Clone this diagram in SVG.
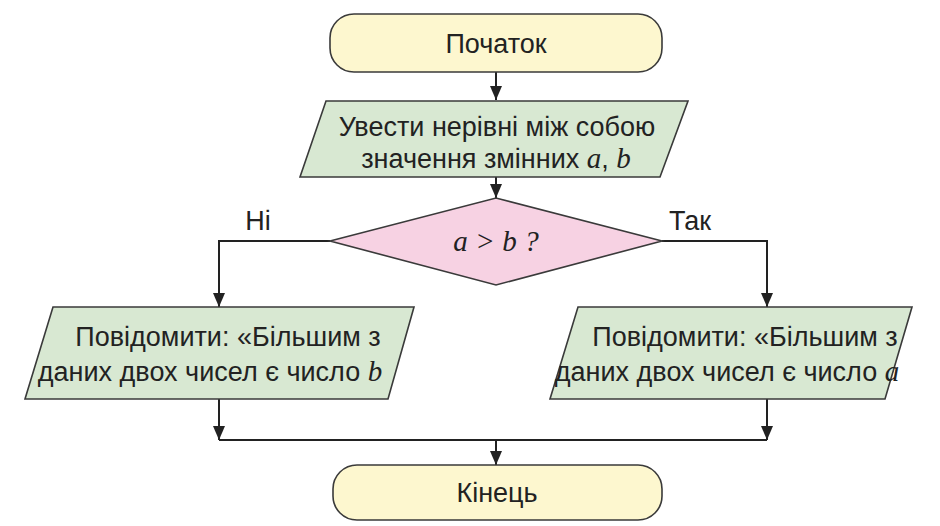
<svg xmlns="http://www.w3.org/2000/svg" width="940" height="526" viewBox="0 0 940 526">
<style>
.s{stroke:#3a3a3a;stroke-width:1.6}
.t{font-family:"Liberation Sans",Arial,sans-serif;font-size:27px;fill:#222;text-anchor:middle}
.m{font-family:"Liberation Serif","Times New Roman",serif;font-style:italic;font-size:29px}
.c{fill:none;stroke:#222;stroke-width:2}
</style>
<defs><marker id="d" markerWidth="12" markerHeight="14" refX="6" refY="14" markerUnits="userSpaceOnUse" viewBox="0 0 12 14"><path d="M0,0L12,0L6,14Z" fill="#222"/></marker></defs>
<rect width="940" height="526" fill="#fff"/>
<g id="connectors" class="c">
<path d="M496,72V100" marker-end="url(#d)"/>
<path d="M496,177V198" marker-end="url(#d)"/>
<path d="M330,241H219V307" marker-end="url(#d)"/>
<path d="M662,241H767V307" marker-end="url(#d)"/>
<path d="M219,399V440" marker-end="url(#d)"/>
<path d="M767,399V440" marker-end="url(#d)"/>
<path d="M219,440H767"/>
<path d="M496,440V465" marker-end="url(#d)"/>
</g>
<g id="start"><rect class="s" x="330" y="14" width="332" height="58" rx="24" fill="#fdf7cf"/><text class="t" x="496" y="53">Початок</text></g>
<g id="input"><polygon class="s" points="326,101 688,101 660,177 300,177" fill="#d8e8d2"/><text class="t" x="497" y="136">Увести нерівні між собою</text><text class="t" x="496" y="168">значення змінних <tspan class="m">a</tspan>, <tspan class="m">b</tspan></text></g>
<g id="cond"><polygon class="s" points="330,241 496,198 662,241 496,285" fill="#f7d2e3"/><text class="t" x="496" y="251"><tspan class="m">a</tspan> <tspan class="m">&gt;</tspan> <tspan class="m">b</tspan> <tspan class="m">?</tspan></text></g>
<g id="no"><polygon class="s" points="53,307 414,307 388,399 25,399" fill="#d8e8d2"/><text class="t" x="228" y="346">Повідомити: «Більшим з</text><text class="t" x="210" y="381">даних двох чисел є число <tspan class="m">b</tspan></text></g>
<g id="yes"><polygon class="s" points="578,307 912,307 885,399 550,399" fill="#d8e8d2"/><text class="t" x="745" y="346">Повідомити: «Більшим з</text><text class="t" x="727" y="381">даних двох чисел є число <tspan class="m">a</tspan></text></g>
<g id="end"><rect class="s" x="333" y="465" width="329" height="55" rx="24" fill="#fdf7cf"/><text class="t" x="497" y="502">Кінець</text></g>
<g id="labels"><text class="t" x="258" y="230">Ні</text><text class="t" x="690" y="230">Так</text></g>
</svg>
